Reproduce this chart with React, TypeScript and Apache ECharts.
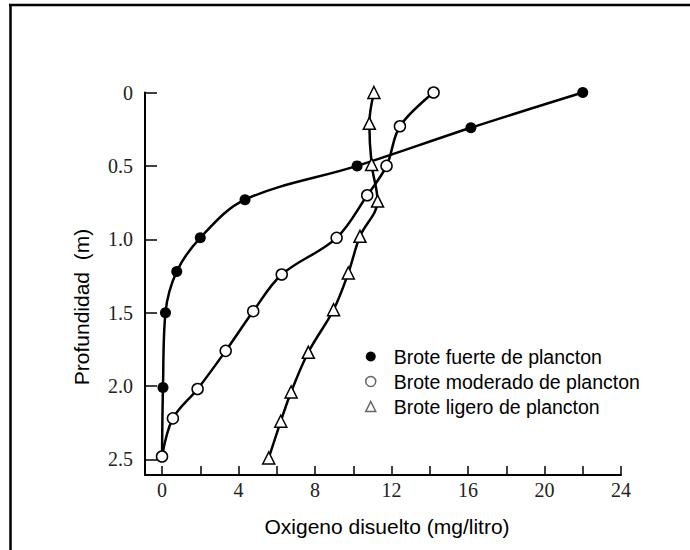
import React, { useEffect, useRef } from "react";
import * as echarts from "echarts";

// Oxygen (mg/l) vs depth (m)
const strongX = [22.0, 16.15, 10.2, 4.34, 2.0, 0.77, 0.18, 0.05, 0.0];
const strongY = [0.0, 0.24, 0.5, 0.73, 0.99, 1.22, 1.5, 2.01, 2.48];
const moderateX = [14.2, 12.44, 11.74, 10.73, 9.13, 6.26, 4.77, 3.33, 1.86, 0.57, 0.0];
const moderateY = [0.0, 0.23, 0.5, 0.7, 0.99, 1.24, 1.49, 1.76, 2.02, 2.22, 2.48];
const lightX = [11.08, 10.84, 10.96, 11.27, 10.35, 9.74, 8.97, 7.65, 6.75, 6.21, 5.58];
const lightY = [0.0, 0.21, 0.49, 0.74, 0.98, 1.23, 1.48, 1.77, 2.04, 2.24, 2.49];

const xTicks = [0, 2, 4, 6, 8, 10, 12, 14, 16, 18, 20, 22, 24];
const xLabels = [0, 4, 8, 12, 16, 20, 24];
const yTicks = [0, 0.5, 1.0, 1.5, 2.0, 2.5];

const names = [
  "Brote fuerte de plancton",
  "Brote moderado de plancton",
  "Brote ligero de plancton",
];

const zip = (xs: number[], ys: number[]) => xs.map((x, i) => [x, ys[i]]);

export default function App() {
  const ref = useRef<HTMLDivElement>(null);
  useEffect(() => {
    document.body.style.margin = "0";
    if (!ref.current) return;
    const chart = echarts.init(ref.current, null, { renderer: "svg" });
    const strongData: any[] = zip(strongX, strongY).map((v, i, arr) =>
      i === arr.length - 1 ? { value: v, symbol: "none" } : v
    );
    const lineStyle = { color: "#000", width: 2.5 };
    chart.setOption({
      animation: false,
      backgroundColor: "#fff",
      grid: { left: 145, right: 69, top: 92.5, bottom: 75 },
      xAxis: {
        type: "value",
        min: -0.89,
        max: 24,
        axisLine: { onZero: false, lineStyle: { color: "#000", width: 2 } },
        axisTick: {
          inside: true,
          length: 9,
          customValues: xTicks,
          lineStyle: { color: "#000", width: 1.5 },
        },
        axisLabel: {
          customValues: xLabels,
          fontFamily: "Liberation Serif",
          fontSize: 20,
          color: "#222",
          margin: 5,
        },
        splitLine: { show: false },
      },
      yAxis: {
        type: "value",
        inverse: true,
        min: 0,
        max: 2.606,
        axisLine: { show: true, onZero: false, lineStyle: { color: "#000", width: 2 } },
        axisTick: {
          show: true,
          inside: true,
          length: 12,
          customValues: yTicks,
          lineStyle: { color: "#000", width: 1.5 },
        },
        axisLabel: {
          customValues: yTicks,
          formatter: (v: number) => (v === 0 ? "0" : v.toFixed(1)),
          fontFamily: "Liberation Serif",
          fontSize: 20,
          color: "#222",
          margin: 12,
        },
        splitLine: { show: false },
      },
      legend: {
        orient: "vertical",
        left: 365,
        top: 346,
        padding: 0,
        itemWidth: 10,
        itemHeight: 10,
        itemGap: 4,
        textStyle: {
          fontFamily: "Liberation Sans",
          fontSize: 19.5,
          color: "#000",
          padding: [0, 0, 0, 13],
          lineHeight: 21,
        },
        data: [
          { name: names[0], icon: "circle", itemStyle: { color: "#000", borderWidth: 0 } },
          {
            name: names[1],
            icon: "circle",
            itemStyle: { color: "#fff", borderColor: "#666", borderWidth: 1.5 },
          },
          {
            name: names[2],
            icon: "triangle",
            itemStyle: { color: "#fff", borderColor: "#666", borderWidth: 1.5 },
          },
        ],
      },
      series: [
        {
          name: names[0],
          type: "line",
          data: strongData,
          smooth: 0.35,
          symbol: "circle",
          symbolSize: 11,
          itemStyle: { color: "#000" },
          lineStyle,
          z: 3,
        },
        {
          name: names[1],
          type: "line",
          data: zip(moderateX, moderateY),
          smooth: 0.35,
          symbol: "circle",
          symbolSize: 11,
          itemStyle: { color: "#fff", borderColor: "#000", borderWidth: 1.5 },
          lineStyle,
          z: 4,
        },
        {
          name: names[2],
          type: "line",
          data: zip(lightX, lightY),
          smooth: 0.35,
          symbol: "triangle",
          symbolSize: 12,
          itemStyle: { color: "#fff", borderColor: "#000", borderWidth: 1.5 },
          lineStyle,
          z: 5,
        },
      ],
      graphic: [
        {
          type: "line",
          shape: { x1: 10.5, y1: 4, x2: 10.5, y2: 550 },
          style: { stroke: "#000", lineWidth: 2.5 },
        },
        {
          type: "line",
          shape: { x1: 9, y1: 5, x2: 690, y2: 5 },
          style: { stroke: "#000", lineWidth: 2.5 },
        },
        {
          type: "text",
          x: 387,
          y: 526,
          style: {
            text: "Oxigeno disuelto (mg/litro)",
            fontFamily: "Liberation Sans",
            fontSize: 21,
            fill: "#000",
            textAlign: "center",
            textVerticalAlign: "middle",
          },
        },
        {
          type: "text",
          x: 81,
          y: 307,
          rotation: Math.PI / 2,
          style: {
            text: "Profundidad  (m)",
            fontFamily: "Liberation Sans",
            fontSize: 21,
            fill: "#000",
            textAlign: "center",
            textVerticalAlign: "middle",
          },
        },
      ],
    });
    return () => chart.dispose();
  }, []);
  return <div ref={ref} style={{ width: 690, height: 550 }} />;
}
